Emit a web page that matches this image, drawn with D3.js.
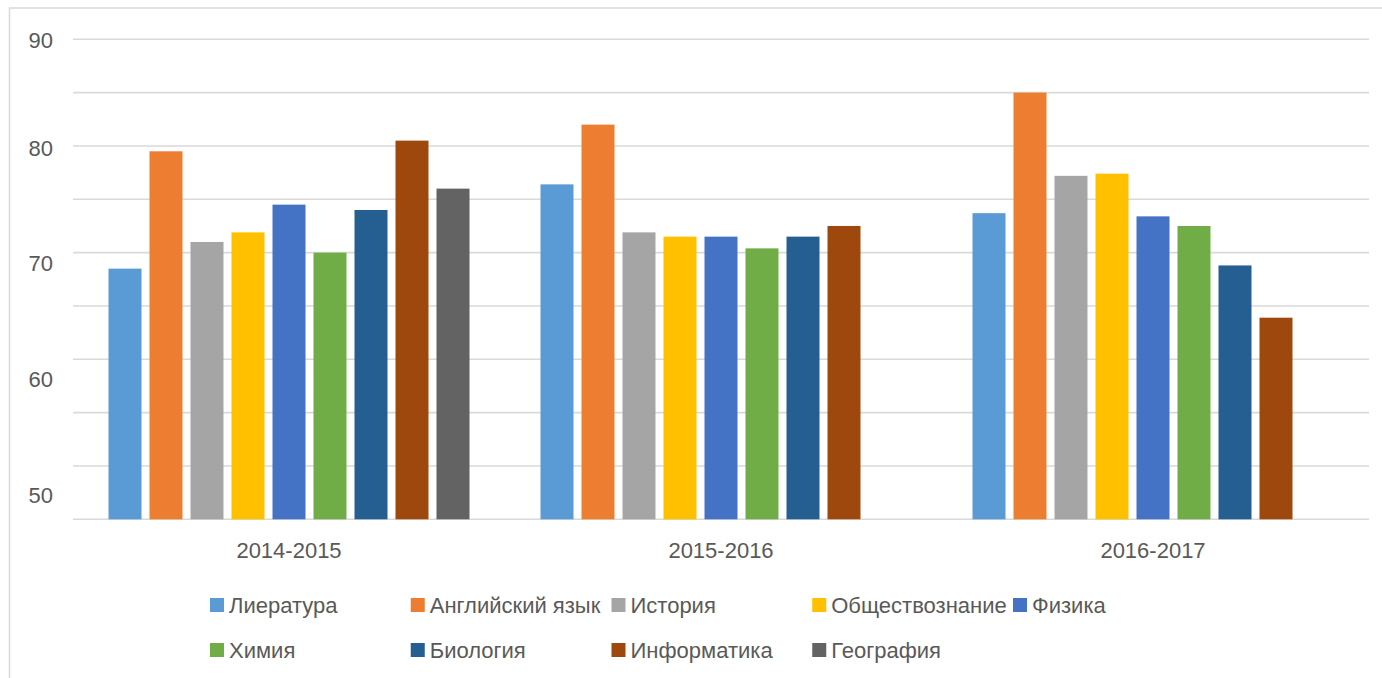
<!DOCTYPE html>
<html>
<head>
<meta charset="utf-8">
<script src="https://cdn.jsdelivr.net/npm/d3@7"></script>
<style>
  body { margin: 0; background: #fff; }
  svg { display: block; }
</style>
</head>
<body>
<svg id="chart"></svg>
<script>
// data
const years = ['2014-2015', '2015-2016', '2016-2017'];
const subjects = ['Лиература', 'Английский язык', 'История', 'Обществознание', 'Физика',
  'Химия', 'Биология', 'Информатика', 'География'];
const colors = ['#5b9bd5', '#ed7d31', '#a5a5a5', '#ffc000', '#4472c4',
  '#70ad47', '#255e91', '#9e480e', '#636363'];
const lit = [68.5, 76.4, 73.7];
const eng = [79.5, 82.0, 85.0];
const hist = [71.0, 71.9, 77.2];
const soc = [71.9, 71.5, 77.4];
const phys = [74.5, 71.5, 73.4];
const chem = [70.0, 70.4, 72.5];
const bio = [74.0, 71.5, 68.8];
const inf = [80.5, 72.5, 63.9];
const geo = [76.0, null, null];
const yTicks = [50, 60, 70, 80, 90];
const gridStep = 5;

const seriesValues = [lit, eng, hist, soc, phys, chem, bio, inf, geo];

// drawing constants
const W = 1382, H = 678;
const PLOT_L = 73, PLOT_R = 1369, PLOT_T = 39.3, PLOT_B = 519.3;
const TEXT = '#595959';
const GRID = '#d9d9d9';
const FONT = '"Liberation Sans", Arial, sans-serif';
const FS = 22;

const svg = d3.select('#chart')
  .attr('width', W)
  .attr('height', H)
  .attr('font-family', FONT);

// outer frame (cut off on the right and bottom)
svg.append('path')
  .attr('d', `M9.5,${H + 5} V8 H${W + 5}`)
  .attr('fill', 'none')
  .attr('stroke', GRID)
  .attr('stroke-width', 1.5);

const y = d3.scaleLinear().domain([45, 90]).range([PLOT_B, PLOT_T]);
// tick labels sit slightly off the gridlines in the original
const yLabel = d3.scaleLinear().domain(yTicks).range([495, 379, 263, 148, 40]);

const x0 = d3.scaleBand().domain(years).range([PLOT_L, PLOT_R]).padding(0);
const x1 = d3.scaleBand().domain(subjects)
  .range([(x0.bandwidth() - 361) / 2, (x0.bandwidth() + 361) / 2])
  .paddingInner(8 / 41).paddingOuter(0);

// gridlines
const gridVals = d3.range(45, 90 + 0.01, gridStep);
svg.append('g')
  .selectAll('line')
  .data(gridVals)
  .join('line')
  .attr('x1', PLOT_L)
  .attr('x2', PLOT_R)
  .attr('y1', d => y(d))
  .attr('y2', d => y(d))
  .attr('stroke', GRID)
  .attr('stroke-width', 1.6);

// y labels
svg.append('g')
  .selectAll('text')
  .data(yTicks)
  .join('text')
  .attr('x', 53)
  .attr('y', d => yLabel(d))
  .attr('dy', '0.35em')
  .attr('text-anchor', 'end')
  .attr('font-size', FS)
  .attr('fill', TEXT)
  .text(d => d);

// bars
const bars = [];
seriesValues.forEach((vals, si) => {
  vals.forEach((v, yi) => {
    if (v != null) bars.push({ year: years[yi], subject: subjects[si], color: colors[si], value: v });
  });
});

svg.append('g')
  .selectAll('rect')
  .data(bars)
  .join('rect')
  .attr('x', d => x0(d.year) + x1(d.subject))
  .attr('width', x1.bandwidth())
  .attr('y', d => y(d.value))
  .attr('height', d => y(45) - y(d.value))
  .attr('fill', d => d.color);

// x labels
svg.append('g')
  .selectAll('text')
  .data(years)
  .join('text')
  .attr('x', d => x0(d) + x0.bandwidth() / 2)
  .attr('y', 550)
  .attr('dy', '0.35em')
  .attr('text-anchor', 'middle')
  .attr('font-size', FS)
  .attr('fill', TEXT)
  .text(d => d);

// legend: 5 columns, items drawn in order so later swatches sit on top
const legend = svg.append('g');
subjects.forEach((s, i) => {
  const col = i % 5, row = Math.floor(i / 5);
  const lx = 210 + col * 200.75;
  const ly = 605 + row * 45;
  const g = legend.append('g');
  g.append('rect')
    .attr('x', lx)
    .attr('y', ly - 7)
    .attr('width', 14)
    .attr('height', 14)
    .attr('fill', colors[i]);
  g.append('text')
    .attr('x', lx + 19)
    .attr('y', ly)
    .attr('dy', '0.35em')
    .attr('font-size', FS)
    .attr('fill', TEXT)
    .text(s);
});
</script>
</body>
</html>
